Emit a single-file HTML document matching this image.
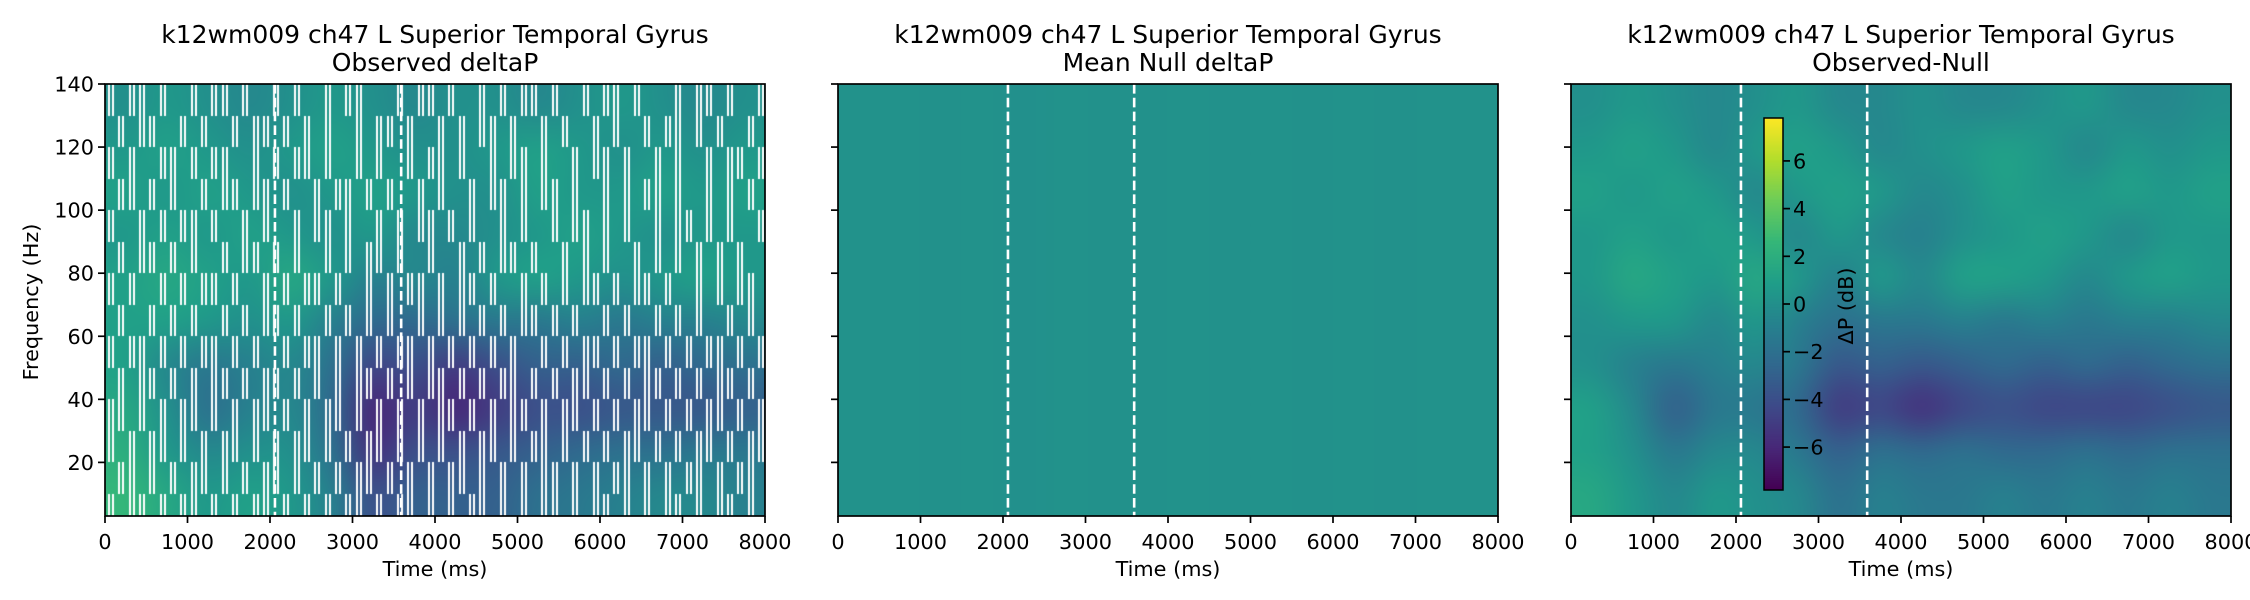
<!DOCTYPE html>
<html><head><meta charset="utf-8">
<style>
html,body{margin:0;padding:0;background:#fff;}
#wrap{position:relative;width:2250px;height:600px;overflow:hidden;font-family:"DejaVu Sans","Liberation Sans",sans-serif;}
canvas{position:absolute;}
svg{position:absolute;left:0;top:0;}
text{font-family:"DejaVu Sans","Liberation Sans",sans-serif;fill:#000;}
</style></head><body>
<div id="wrap">
<canvas id="c1" width="660" height="432" style="left:105px;top:84px"></canvas>
<canvas id="c2" width="660" height="432" style="left:838px;top:84px"></canvas>
<canvas id="c3" width="660" height="432" style="left:1571px;top:84px"></canvas>
<canvas id="cb" width="19" height="372" style="left:1764px;top:118px"></canvas>
<svg id="ov" width="2250" height="600"></svg>
</div>
<script>
// ---- data ----
const xTicks = [0,1000,2000,3000,4000,5000,6000,7000,8000];
const yTicks = [20,40,60,80,100,120,140];
const cbTicks = [-6,-4,-2,0,2,4,6];
const eventTimes = [2060,3590];
const titles1 = ["Observed deltaP","Mean Null deltaP","Observed-Null"];
// observed-null grid: rows top (140Hz) -> bottom (3Hz), 16 cols of 500ms
const diffGrid = [
[0,0.5,0,-0.5,0,0.5,-0.5,-0.5,0,-0.5,-0.5,0,0.5,-0.5,-0.5,0],
[0.5,1,0.5,-0.5,0.5,1,0.5,-0.5,0,0.5,1,0.5,-0.5,0.5,0,0.5],
[1,0.5,1,0.5,-0.5,0.5,1,0.5,-0.5,0,1,0.5,0.5,1,0.5,1],
[0.5,1,0.5,1,0.5,-0.5,0.5,-0.5,-1,0,0.5,1,0.5,-0.5,0.5,0.5],
[0.5,1.5,1,0.5,1.5,0.5,-1,0.5,-0.5,1,1,0.5,-0.5,0.5,1,0.5],
[0,0.5,0.5,-0.5,0.5,-1,-2,-1.5,-1.5,-1,-1.5,-1,-1.5,-1,-1,-0.5],
[0,-1,-1.5,-1,-0.5,-1.5,-3.5,-3,-3.5,-3,-2.5,-3,-2.5,-3,-2.5,-2],
[1,-0.5,-3,-1.5,-1.5,-2.5,-5,-4.5,-5.5,-4.5,-4,-4.5,-4.5,-4.5,-4,-3.5],
[1,0,-1.5,-0.5,-0.5,-1.5,-3,-2,-2.5,-2,-2.5,-2.5,-2,-2.5,-2,-2],
[1.5,0.5,-0.5,0.5,0,-0.5,-2,-1,-1.5,-1.5,-1,-1.5,-1,-1.5,-1,-1.5]];
const obsGrid = [
[0,0.5,0,-0.5,0,0.5,0,-0.5,0,0,-0.5,0,0.5,0,-0.5,0],
[0.5,1,0.5,0,0.5,1,0.5,0,0,0.5,1,0.5,0,0.5,0,0.5],
[1,0.5,1,0.5,0,0.5,1,0.5,0,0,1,0.5,0.5,1,0.5,1],
[0.5,1,0.5,1,0.5,0,0.5,-0.5,-0.5,0,0.5,1,0.5,0,0.5,0.5],
[1,1.5,1,0.5,1.5,0.5,-1,-0.5,-1,0.5,1,0.5,0,0.5,1,0.5],
[1,1,0.5,0,0.5,-1,-2.5,-2.5,-2,-1.5,-1.5,-1,-1.5,-1,-1,-0.5],
[1,-0.5,-1.5,-1,-0.5,-2,-4.5,-4,-5,-4,-3,-3,-2.5,-3,-2.5,-2],
[1.5,0,-2,-1,-0.5,-2.5,-6,-5,-6,-5,-4,-4,-3.5,-3.5,-3.5,-3],
[2,0.5,-0.5,0,0,-2,-5.5,-4,-4,-3.5,-3,-2.5,-2,-2,-1.5,-1.5],
[2.5,1.5,0.5,1,0.5,-1,-4,-3,-3,-3,-2,-1.5,-1,-0.5,-0.5,-1]];
const nullRow = [0.1,0.1,0.05,0.1,0.0,0.1,0.05,0.05,0.1,0.05,0.1,0.05,0.1,0.05,0.1,0.1];
// white mask pattern for observed panel: rows of 10Hz from 140 down, '1' = masked
const maskRows = [
"1011010010110100101001011000101101001010110100101101000101101001",
"0101100101001011010101001011010010101101001010010100101101010010",
"1010011010110010101101001010010110100101101001011010010100101101",
"0110101001011011010010110101001010010110101101001010110100101010",
"1001010110100101001011010010101101010010100101101010010110101001",
"0101101010010110101001010110100100101011010010101001010101010100",
"1010010101101001010110100101011010110100101010110101101001010110",
"0100101010010101101001010101001010101010110101001010010101001010",
"1011010101101010010110101010110101010101001010110101101010110101",
"0101101010110101101010101101010110101011010101101010110101011010",
"1101010110101011010101101010101011010101101011010101101010110101",
"1010110101011010101101010110101010101101011010101011010101101011",
"0110101011010101101010101101010101101010101101010110101011010110",
"1011010110101011010101011010110101011010101101011010101101011010"];
// ---- helpers ----
const VIR=[[68,1,84],[72,40,120],[62,74,137],[49,104,142],[38,130,142],[31,158,137],[53,183,121],[109,205,89],[180,222,44],[253,231,37]];
function viridis(t){t=Math.max(0,Math.min(1,t));const f=t*9,i=Math.min(8,Math.floor(f)),r=f-i;const a=VIR[i],b=VIR[i+1];return [a[0]+(b[0]-a[0])*r,a[1]+(b[1]-a[1])*r,a[2]+(b[2]-a[2])*r];}
const vmin=-7.8,vmax=7.8;
const W=660,H=432,fMin=3,fMax=140,tMax=8000;
const xs=t=>t/tMax*W, ys=f=>(fMax-f)/(fMax-fMin)*H;
function drawGrid(id,grid){
  const rows=grid.length,cols=grid[0].length;
  const sm=document.createElement('canvas');sm.width=cols;sm.height=rows;
  const sc=sm.getContext('2d');const im=sc.createImageData(cols,rows);
  for(let r=0;r<rows;r++)for(let c=0;c<cols;c++){const col=viridis((grid[r][c]-vmin)/(vmax-vmin));const k=(r*cols+c)*4;im.data[k]=col[0];im.data[k+1]=col[1];im.data[k+2]=col[2];im.data[k+3]=255;}
  sc.putImageData(im,0,0);
  const ctx=document.getElementById(id).getContext('2d');
  ctx.imageSmoothingEnabled=true;ctx.imageSmoothingQuality='high';
  ctx.drawImage(sm,0,0,W,H);
  return ctx;
}
const c1=drawGrid('c1',obsGrid);
drawGrid('c2',[nullRow,nullRow]);
drawGrid('c3',diffGrid);
// mask streaks (solid white edges)
c1.fillStyle='#fff';
maskRows.forEach((row,ri)=>{
  const fTop=140-ri*10,fBot=Math.max(fMin,130-ri*10);
  const y0=Math.round(ys(fTop)),y1=Math.round(ys(fBot));
  for(let i=0;i<row.length;i++){ if(row[i]==='1'){const x=Math.round(xs((i+0.5)/row.length*tMax));
    c1.fillRect(x-2,y0,2,y1-y0);c1.fillRect(x+2,y0,2,y1-y0);} }
});
// colorbar
const cb=document.getElementById('cb').getContext('2d');
for(let y=0;y<372;y++){const v=vmax-(y/371)*(vmax-vmin);const col=viridis((v-vmin)/(vmax-vmin));cb.fillStyle=`rgb(${col[0]|0},${col[1]|0},${col[2]|0})`;cb.fillRect(0,y,19,1);}
// ---- svg overlay ----
const NS='http://www.w3.org/2000/svg',ov=document.getElementById('ov');
function el(tag,attrs,txt){const e=document.createElementNS(NS,tag);for(const k in attrs)e.setAttribute(k,attrs[k]);if(txt!==undefined)e.textContent=txt;ov.appendChild(e);return e;}
const lefts=[105,838,1571],top0=84;
lefts.forEach((L,pi)=>{
  eventTimes.forEach(t=>{const e=el('line',{x1:L+xs(t),x2:L+xs(t),y1:top0,y2:top0+H,stroke:'#fff','stroke-width':2.6,'stroke-dasharray':'9.6,4.2'});
    
    });
  const fr=el('rect',{x:L,y:top0,width:W,height:H,fill:'none',stroke:'#000','stroke-width':1.7});
  
  
  xTicks.forEach(t=>{const x=L+xs(t);el('line',{x1:x,x2:x,y1:top0+H,y2:top0+H+7,stroke:'#000','stroke-width':1.7});
    const tx=el('text',{x:x,y:549,'font-size':20.8,'text-anchor':'middle'},String(t));
    
    });
  yTicks.forEach(f=>{const y=top0+ys(f);el('line',{x1:L-7,x2:L,y1:y,y2:y,stroke:'#000','stroke-width':1.7});
    if(pi===0){const tx=el('text',{x:L-11,y:y+7.5,'font-size':20.8,'text-anchor':'end'},String(f));
      
      }});
  const xl=el('text',{x:L+W/2,y:576,'font-size':20.8,'text-anchor':'middle'},'Time (ms)');
  
  
  const t1=el('text',{x:L+W/2,y:43,'font-size':25,'text-anchor':'middle'},'k12wm009 ch47 L Superior Temporal Gyrus');
  
  
  const t2=el('text',{x:L+W/2,y:71,'font-size':25,'text-anchor':'middle'},titles1[pi]);
  
  
});
const yl=el('text',{x:0,y:0,'font-size':20.8,'text-anchor':'middle',transform:'translate(38,302) rotate(-90)'},'Frequency (Hz)');


// colorbar frame & ticks
const cbTop=118,cbH=372,cbX=1764;
const cbf=el('rect',{x:cbX,y:cbTop,width:19,height:cbH,fill:'none',stroke:'#000','stroke-width':1.5});


cbTicks.forEach(v=>{const y=cbTop+(vmax-v)/(vmax-vmin)*cbH;el('line',{x1:cbX+19,x2:cbX+26,y1:y,y2:y,stroke:'#000','stroke-width':1.7});
  const tx=el('text',{x:cbX+29,y:y+7.5,'font-size':20.8},(v<0?'\u2212':'')+Math.abs(v));
  
  });
const cl=el('text',{x:0,y:0,'font-size':20.8,'text-anchor':'middle',transform:'translate(1853,306) rotate(-90)'},'\u0394P (dB)');


</script>
</body></html>
